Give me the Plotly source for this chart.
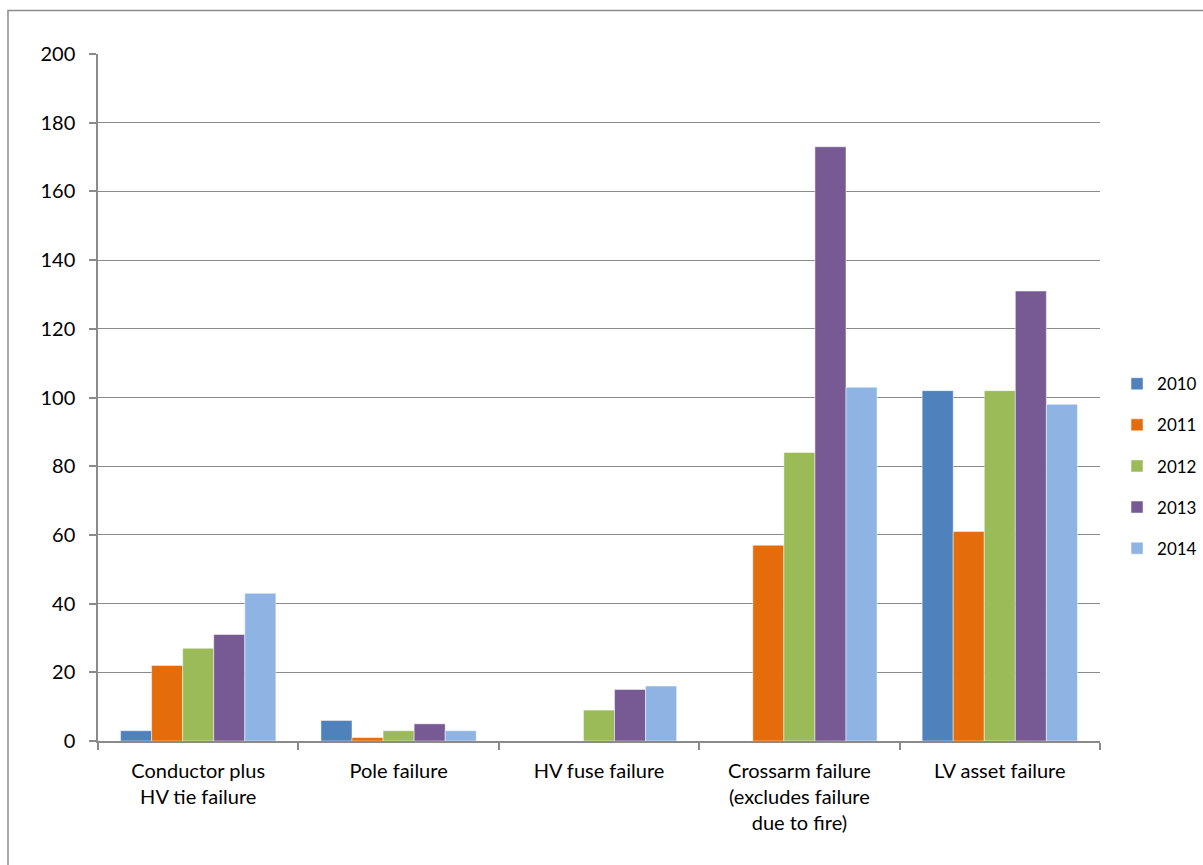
import plotly.graph_objects as go

# Failure counts by asset category and year
categories = [
    "Conductor plus<br>HV tie failure",
    "Pole failure",
    "HV fuse failure",
    "Crossarm failure<br>(excludes failure<br>due to fire)",
    "LV asset failure",
]
years = ["2010", "2011", "2012", "2013", "2014"]
values_2010 = [3, 6, 0, 0, 102]
values_2011 = [22, 1, 0, 57, 61]
values_2012 = [27, 3, 9, 84, 102]
values_2013 = [31, 5, 15, 173, 131]
values_2014 = [43, 3, 16, 103, 98]
series = [values_2010, values_2011, values_2012, values_2013, values_2014]
colors = ["#4F81BD", "#E46C0A", "#9BBB59", "#775A94", "#8EB4E3"]

FONT = "Lato, Calibri, Carlito, sans-serif"
GRID = "#8A8A8A"

fig = go.Figure()
for yr, vals, col in zip(years, series, colors):
    fig.add_trace(go.Bar(
        x=categories, y=vals, name=yr,
        marker=dict(color=col, line=dict(color="rgba(255,255,255,0.6)", width=0.8)),
        legendgroup=yr,
    ))

fig.update_layout(
    width=1203, height=865,
    margin=dict(l=98, r=103, t=54, b=124, autoexpand=False),
    paper_bgcolor="white", plot_bgcolor="white",
    barmode="group", bargap=0.225, bargroupgap=0,
    font=dict(family=FONT, size=20, color="#000000"),
    showlegend=True,
    legend=dict(
        x=1.017, y=0.4, xanchor="left", yanchor="middle",
        font=dict(family=FONT, size=17),
        traceorder="grouped", tracegroupgap=16,
        itemwidth=30,
        bgcolor="rgba(0,0,0,0)",
    ),
    xaxis=dict(
        type="category",
        showline=True, linecolor=GRID, linewidth=1.5,
        ticks="outside", tickson="boundaries", ticklen=7,
        tickcolor=GRID, tickwidth=1.5,
        showgrid=False,
        tickfont=dict(family=FONT, size=20),
        ticklabelstandoff=11,
    ),
    yaxis=dict(
        range=[0, 200], dtick=20,
        showline=True, linecolor=GRID, linewidth=1.5,
        ticks="outside", ticklen=7, tickcolor=GRID, tickwidth=1.5,
        showgrid=True, gridcolor=GRID, gridwidth=1.3,
        zeroline=False,
        tickfont=dict(family=FONT, size=20),
        ticklabelstandoff=10,
    ),
    shapes=[
        dict(
            type="rect", xref="paper", yref="paper",
            x0=(8 - 98) / 1002, x1=(1215 - 98) / 1002,
            y0=(741 - 880) / 687, y1=(741 - 10.5) / 687,
            line=dict(color="#8C8C8C", width=1.5),
            fillcolor="rgba(0,0,0,0)", layer="below",
        )
    ],
)

fig.write_html("out.html")
